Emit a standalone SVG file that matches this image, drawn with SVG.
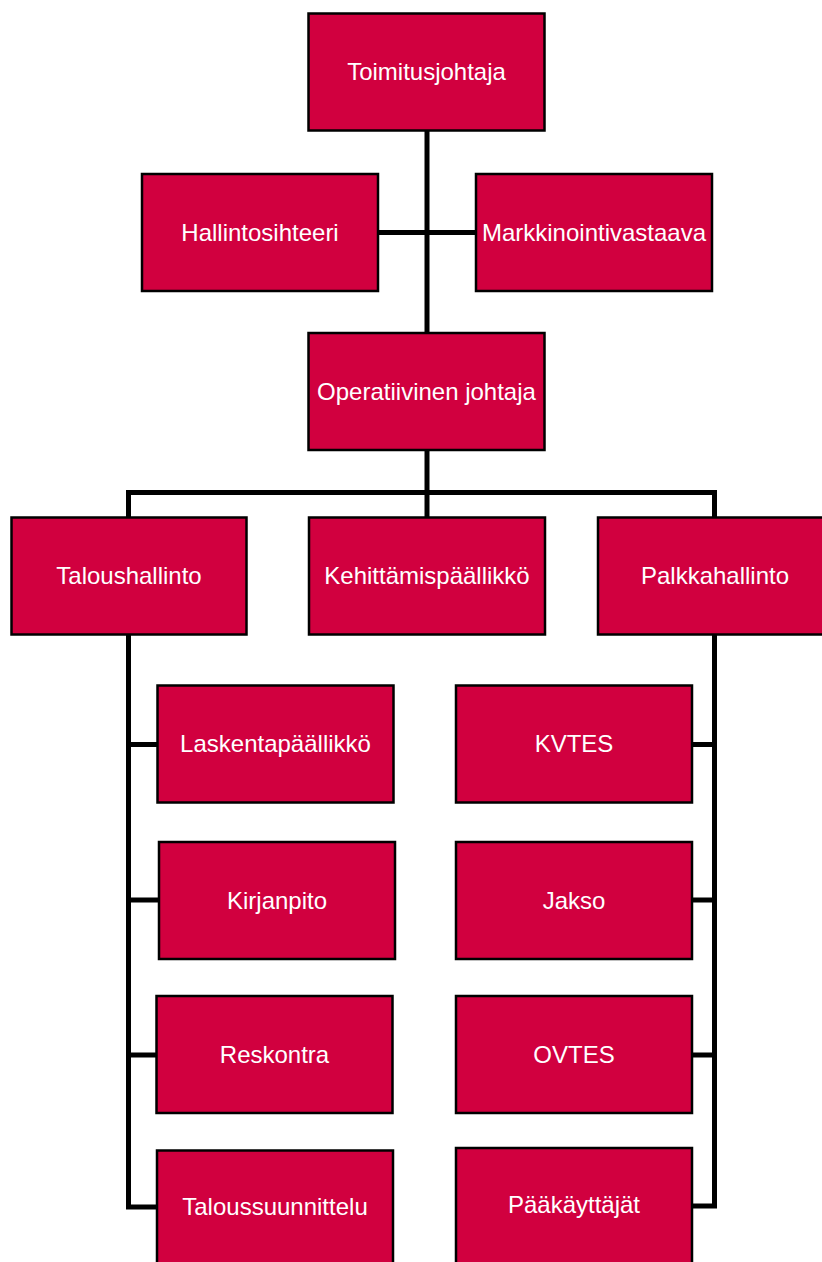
<svg xmlns="http://www.w3.org/2000/svg" width="822" height="1262" viewBox="0 0 822 1262">
<style>
.box{fill:#D1003F;stroke:#000;stroke-width:2.5}
.lbl{font-family:"Liberation Sans",Arial,sans-serif;font-size:24px;fill:#fff;text-anchor:middle}
.con{fill:none;stroke:#000;stroke-width:5;stroke-linejoin:miter;stroke-linecap:butt}
</style>
<rect width="822" height="1262" fill="#fff"/>
<g id="connectors" class="con">
<path d="M427 131V333"/>
<path d="M378 232.5H476"/>
<path d="M427 450V517"/>
<path d="M128.5 517V492.5H714.5V517"/>
<path d="M128.5 635V1207H157"/>
<path d="M128.5 744.5H157M128.5 900H158M128.5 1055H156"/>
<path d="M714.5 635V1206H692"/>
<path d="M714.5 744.5H692M714.5 900H692M714.5 1055H692"/>
</g>
<g id="toimitusjohtaja"><rect class="box" x="308.5" y="13.5" width="236" height="117"/><text class="lbl" x="426.5" y="80">Toimitusjohtaja</text></g>
<g id="hallintosihteeri"><rect class="box" x="142" y="174" width="236" height="117"/><text class="lbl" x="260" y="240.5">Hallintosihteeri</text></g>
<g id="markkinointivastaava"><rect class="box" x="476" y="174" width="236" height="117"/><text class="lbl" x="594" y="240.5">Markkinointivastaava</text></g>
<g id="operatiivinen"><rect class="box" x="308.5" y="333" width="236" height="117"/><text class="lbl" x="426.5" y="399.5">Operatiivinen johtaja</text></g>
<g id="taloushallinto"><rect class="box" x="11.5" y="517.5" width="235" height="117"/><text class="lbl" x="129" y="584">Taloushallinto</text></g>
<g id="kehittamispaallikko"><rect class="box" x="309" y="517.5" width="236" height="117"/><text class="lbl" x="427" y="584">Kehittämispäällikkö</text></g>
<g id="palkkahallinto"><rect class="box" x="598" y="517.5" width="236" height="117"/><text class="lbl" x="715" y="584">Palkkahallinto</text></g>
<g id="laskentapaallikko"><rect class="box" x="157.5" y="685.5" width="236" height="117"/><text class="lbl" x="275.5" y="752">Laskentapäällikkö</text></g>
<g id="kirjanpito"><rect class="box" x="159" y="842" width="236" height="117"/><text class="lbl" x="277" y="908.5">Kirjanpito</text></g>
<g id="reskontra"><rect class="box" x="156.5" y="996" width="236" height="117"/><text class="lbl" x="274.5" y="1062.5">Reskontra</text></g>
<g id="taloussuunnittelu"><rect class="box" x="157" y="1150.5" width="236" height="117"/><text class="lbl" x="275" y="1215">Taloussuunnittelu</text></g>
<g id="kvtes"><rect class="box" x="456" y="685.5" width="236" height="117"/><text class="lbl" x="574" y="752">KVTES</text></g>
<g id="jakso"><rect class="box" x="456" y="842" width="236" height="117"/><text class="lbl" x="574" y="908.5">Jakso</text></g>
<g id="ovtes"><rect class="box" x="456" y="996" width="236" height="117"/><text class="lbl" x="574" y="1062.5">OVTES</text></g>
<g id="paakayttajat"><rect class="box" x="456" y="1148" width="236" height="117"/><text class="lbl" x="574" y="1213">Pääkäyttäjät</text></g>
</svg>
